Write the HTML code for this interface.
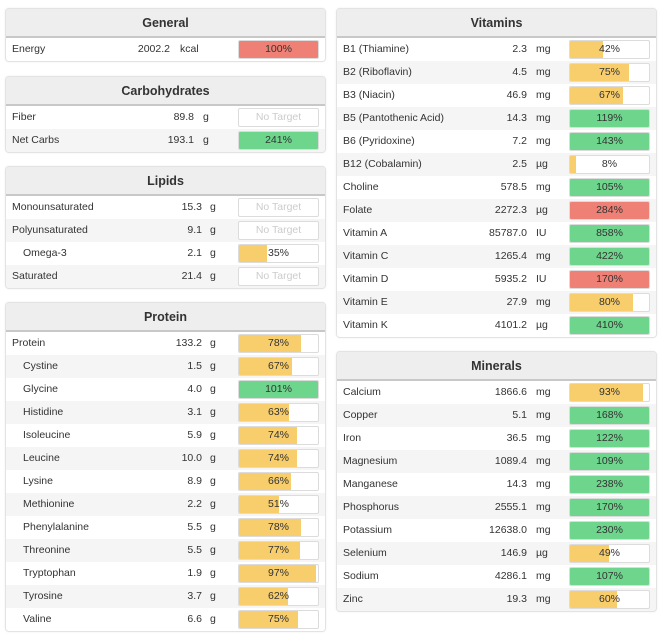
<!DOCTYPE html>
<html><head><meta charset="utf-8"><style>
body{margin:0;background:#fff;font-family:"Liberation Sans",sans-serif;font-size:10.5px;color:#333;width:661px;height:635px;position:relative;overflow:hidden}
.panel{position:absolute;border:1px solid #e3e3e3;border-radius:4px;background:#fff;overflow:hidden;box-shadow:0 0 2px #eee}
.hdr{height:27px;background:#eeeeee;border-bottom:2px solid #c8c8c8;text-align:center;font-weight:bold;font-size:12.5px;line-height:28px;color:#333}
.row{position:relative;height:23px}
.row span{position:absolute;top:5px;white-space:nowrap}
.bar{position:absolute;top:2px;width:79px;height:17px;border:1px solid #dcdcdc;border-radius:2px;background:#fff;overflow:hidden}
.fill{position:absolute;left:0;top:0;bottom:0}
.pct{position:absolute;left:0;right:0;top:2px;text-align:center;font-size:10.5px;color:#333}
.nt{color:#ccc}
</style></head><body>
<script>
const panels=[
 {name:"General",x:5,y:8,w:319,vr:168,ux:180,names:["Energy"],values:["2002.2"],units:["kcal"],pcts:[100],colors:["r"],indent:[0]},
 {name:"Carbohydrates",x:5,y:76,w:319,vr:192,ux:203,names:["Fiber","Net Carbs"],values:["89.8","193.1"],units:["g","g"],pcts:[null,241],colors:["","g"],indent:[0,0]},
 {name:"Lipids",x:5,y:166,w:319,vr:200,ux:210,names:["Monounsaturated","Polyunsaturated","Omega-3","Saturated"],values:["15.3","9.1","2.1","21.4"],units:["g","g","g","g"],pcts:[null,null,35,null],colors:["","","y",""],indent:[0,0,1,0]},
 {name:"Protein",x:5,y:302,w:319,vr:200,ux:210,names:["Protein","Cystine","Glycine","Histidine","Isoleucine","Leucine","Lysine","Methionine","Phenylalanine","Threonine","Tryptophan","Tyrosine","Valine"],values:["133.2","1.5","4.0","3.1","5.9","10.0","8.9","2.2","5.5","5.5","1.9","3.7","6.6"],units:["g","g","g","g","g","g","g","g","g","g","g","g","g"],pcts:[78,67,101,63,74,74,66,51,78,77,97,62,75],colors:["y","y","g","y","y","y","y","y","y","y","y","y","y"],indent:[0,1,1,1,1,1,1,1,1,1,1,1,1]},
 {name:"Vitamins",x:336,y:8,w:319,vr:525,ux:536,names:["B1 (Thiamine)","B2 (Riboflavin)","B3 (Niacin)","B5 (Pantothenic Acid)","B6 (Pyridoxine)","B12 (Cobalamin)","Choline","Folate","Vitamin A","Vitamin C","Vitamin D","Vitamin E","Vitamin K"],values:["2.3","4.5","46.9","14.3","7.2","2.5","578.5","2272.3","85787.0","1265.4","5935.2","27.9","4101.2"],units:["mg","mg","mg","mg","mg","µg","mg","µg","IU","mg","IU","mg","µg"],pcts:[42,75,67,119,143,8,105,284,858,422,170,80,410],colors:["y","y","y","g","g","y","g","r","g","g","r","y","g"],indent:[0,0,0,0,0,0,0,0,0,0,0,0,0]},
 {name:"Minerals",x:336,y:351,w:319,vr:525,ux:536,names:["Calcium","Copper","Iron","Magnesium","Manganese","Phosphorus","Potassium","Selenium","Sodium","Zinc"],values:["1866.6","5.1","36.5","1089.4","14.3","2555.1","12638.0","146.9","4286.1","19.3"],units:["mg","mg","mg","mg","mg","mg","mg","µg","mg","mg"],pcts:[93,168,122,109,238,170,230,49,107,60],colors:["y","g","g","g","g","g","g","y","g","y"],indent:[0,0,0,0,0,0,0,0,0,0]}
];
const col={y:"#f8cd6b",g:"#6dd58c",r:"#ef8075"};
panels.forEach(p=>{
 const d=document.createElement('div');d.className='panel';
 
 
 d.style.left=p.x+'px';d.style.top=p.y+'px';d.style.width=p.w+'px';
 const h=document.createElement('div');h.className='hdr';h.textContent=p.name;
 
 
 d.appendChild(h);
 const list=document.createElement('div');d.appendChild(list);
 p.names.forEach((n,i)=>{
  const r=document.createElement('div');r.className='row';
  
  
  r.style.background=(i%2===1)?'#f5f5f5':'#ffffff';
  let html=`<span style="left:${p.indent[i]?17:6}px">${n}</span><span style="right:${p.x+p.w-p.vr-1}px">${p.values[i]}</span><span style="left:${p.ux-p.x-1}px">${p.units[i]}</span>`;
  const v=p.pcts[i];
  if(v==null) html+=`<div class="bar" style="left:232px"><div class="pct nt">No Target</div></div>`;
  else html+=`<div class="bar" style="left:232px"><div class="fill" style="width:${Math.min(v,100)}%;background:${col[p.colors[i]]}"></div><div class="pct">${v}%</div></div>`;
  r.innerHTML=html;
  list.appendChild(r);
 });
 document.body.appendChild(d);
});
</script>
</body></html>
